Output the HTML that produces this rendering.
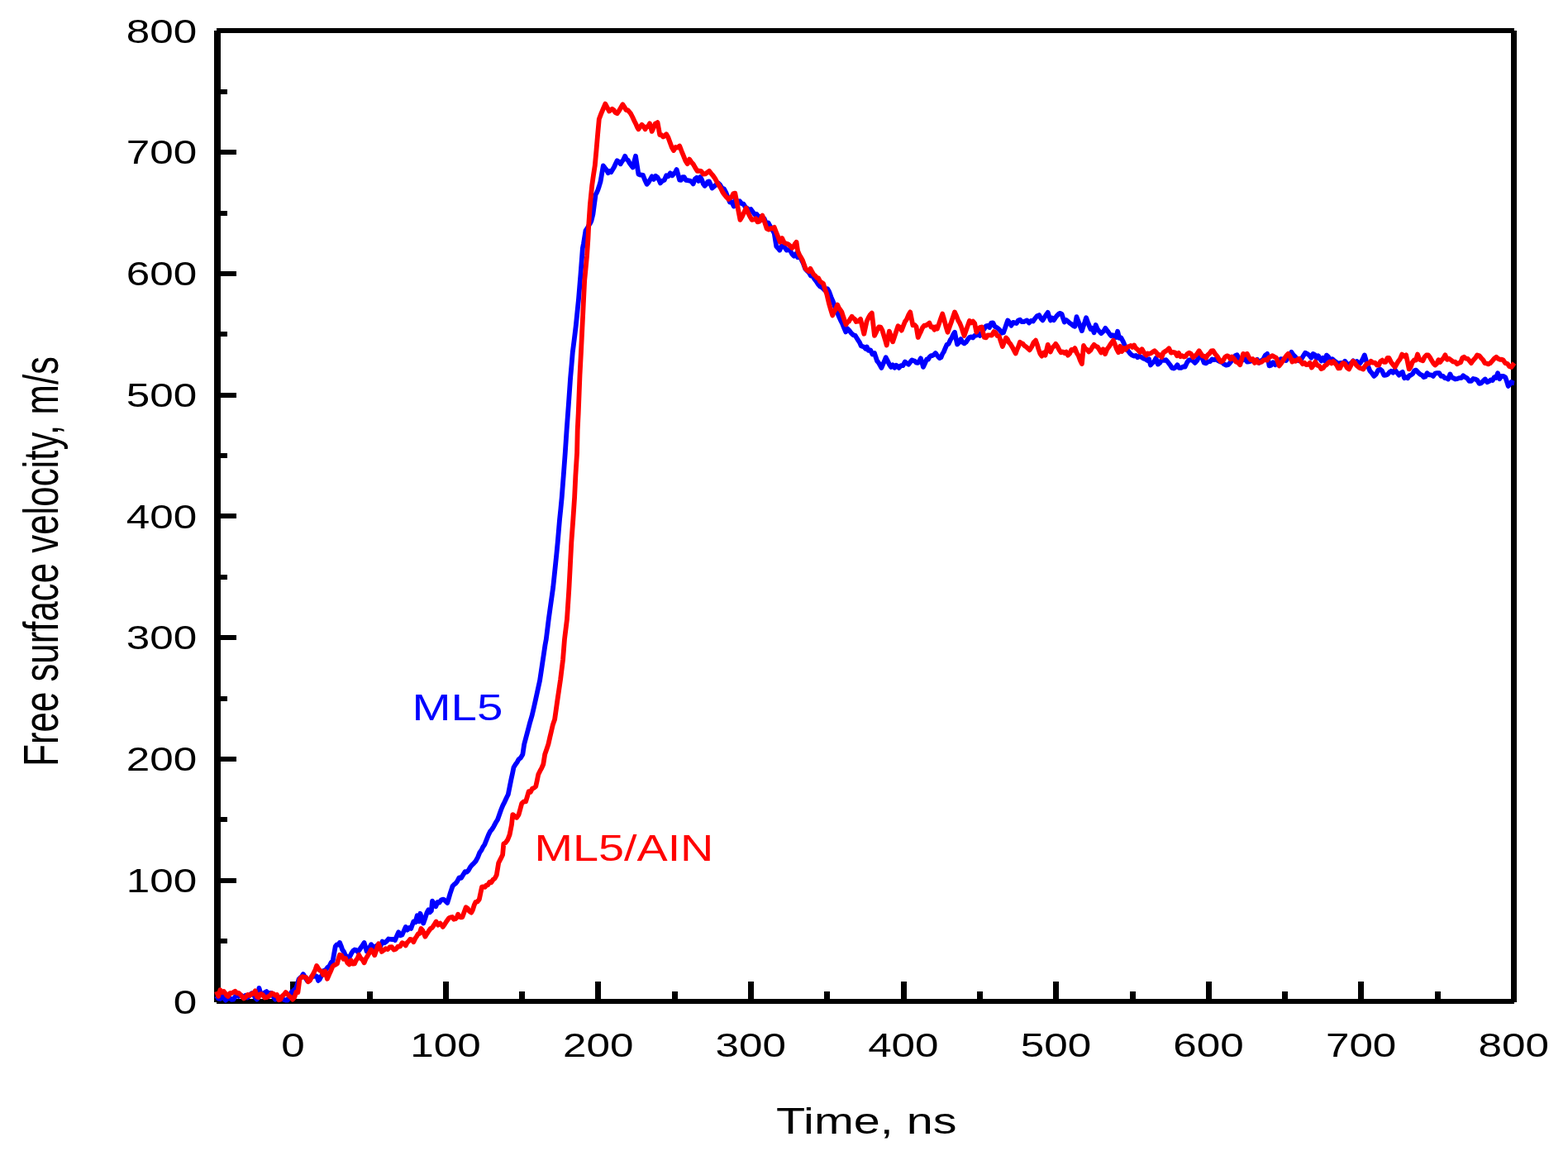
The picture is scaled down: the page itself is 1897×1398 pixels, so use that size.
<!DOCTYPE html>
<html><head><meta charset="utf-8"><title>Free surface velocity vs time</title>
<style>html,body{margin:0;padding:0;background:#fff;overflow:hidden}svg{display:block}</style></head><body>
<svg width="1897" height="1398" viewBox="0 0 1897 1398" font-family="Liberation Sans, Arial, sans-serif">
<rect x="0" y="0" width="1897" height="1398" fill="#fff"/>
<g fill="#000" shape-rendering="crispEdges">
<rect x="262" y="34" width="1570" height="6"/>
<rect x="262" y="1208" width="1570" height="6"/>
<rect x="259" y="37" width="8" height="1175"/>
<rect x="1828" y="37" width="7" height="1175"/>
<rect x="351" y="1187" width="7" height="21"/>
<rect x="444" y="1199" width="7" height="9"/>
<rect x="536" y="1187" width="7" height="21"/>
<rect x="628" y="1199" width="7" height="9"/>
<rect x="720" y="1187" width="7" height="21"/>
<rect x="813" y="1199" width="7" height="9"/>
<rect x="905" y="1187" width="7" height="21"/>
<rect x="997" y="1199" width="7" height="9"/>
<rect x="1090" y="1187" width="7" height="21"/>
<rect x="1182" y="1199" width="7" height="9"/>
<rect x="1274" y="1187" width="7" height="21"/>
<rect x="1367" y="1199" width="7" height="9"/>
<rect x="1459" y="1187" width="7" height="21"/>
<rect x="1551" y="1199" width="7" height="9"/>
<rect x="1643" y="1187" width="7" height="21"/>
<rect x="1736" y="1199" width="7" height="9"/>
<rect x="1828" y="1187" width="7" height="21"/>
<rect x="267" y="1135" width="8" height="6"/>
<rect x="267" y="1062" width="19" height="6"/>
<rect x="267" y="988" width="8" height="6"/>
<rect x="267" y="915" width="19" height="6"/>
<rect x="267" y="842" width="8" height="6"/>
<rect x="267" y="768" width="19" height="6"/>
<rect x="267" y="695" width="8" height="6"/>
<rect x="267" y="621" width="19" height="6"/>
<rect x="267" y="548" width="8" height="6"/>
<rect x="267" y="475" width="19" height="6"/>
<rect x="267" y="401" width="8" height="6"/>
<rect x="267" y="328" width="19" height="6"/>
<rect x="267" y="255" width="8" height="6"/>
<rect x="267" y="181" width="19" height="6"/>
<rect x="267" y="108" width="8" height="6"/>
</g>
<g fill="#000">
<text transform="translate(238.20,1225.60) scale(1.2805,1)" font-size="40.0" text-anchor="end">0</text>
<text transform="translate(238.20,1078.85) scale(1.2805,1)" font-size="40.0" text-anchor="end">100</text>
<text transform="translate(238.20,932.10) scale(1.2805,1)" font-size="40.0" text-anchor="end">200</text>
<text transform="translate(238.20,785.35) scale(1.2805,1)" font-size="40.0" text-anchor="end">300</text>
<text transform="translate(238.20,638.60) scale(1.2805,1)" font-size="40.0" text-anchor="end">400</text>
<text transform="translate(238.20,491.85) scale(1.2805,1)" font-size="40.0" text-anchor="end">500</text>
<text transform="translate(238.20,345.10) scale(1.2805,1)" font-size="40.0" text-anchor="end">600</text>
<text transform="translate(238.20,198.35) scale(1.2805,1)" font-size="40.0" text-anchor="end">700</text>
<text transform="translate(238.20,51.60) scale(1.2805,1)" font-size="40.0" text-anchor="end">800</text>
<text transform="translate(354.50,1277.60) scale(1.2805,1)" font-size="40.0" text-anchor="middle">0</text>
<text transform="translate(539.09,1277.60) scale(1.2805,1)" font-size="40.0" text-anchor="middle">100</text>
<text transform="translate(723.68,1277.60) scale(1.2805,1)" font-size="40.0" text-anchor="middle">200</text>
<text transform="translate(908.27,1277.60) scale(1.2805,1)" font-size="40.0" text-anchor="middle">300</text>
<text transform="translate(1092.86,1277.60) scale(1.2805,1)" font-size="40.0" text-anchor="middle">400</text>
<text transform="translate(1277.45,1277.60) scale(1.2805,1)" font-size="40.0" text-anchor="middle">500</text>
<text transform="translate(1462.04,1277.60) scale(1.2805,1)" font-size="40.0" text-anchor="middle">600</text>
<text transform="translate(1646.63,1277.60) scale(1.2805,1)" font-size="40.0" text-anchor="middle">700</text>
<text transform="translate(1831.22,1277.60) scale(1.2805,1)" font-size="40.0" text-anchor="middle">800</text>
<text transform="translate(939.10,1371.00) scale(1.32,1)" font-size="43.6">Time, ns</text>
<text transform="translate(70.00,926.80) rotate(-90) scale(1,1.337)" font-size="43.82">Free surface velocity, m/s</text>
</g>
<text fill="#0000ff" transform="translate(498.50,871.00) scale(1.272,1)" font-size="44.4">ML5</text>
<text fill="#ff0000" transform="translate(646.50,1041.00) scale(1.256,1)" font-size="44.4">ML5/AIN</text>
<polyline fill="none" stroke="#0000ff" stroke-width="5.8" stroke-linejoin="round" stroke-linecap="butt" points="262.0,1204.4 264.2,1207.6 266.5,1208.0 268.7,1204.4 270.9,1207.1 273.0,1209.6 275.4,1207.5 277.7,1206.4 280.0,1208.9 282.4,1208.6 284.5,1205.4 286.6,1203.4 288.7,1205.0 290.8,1203.3 292.9,1204.4 295.1,1206.1 297.2,1203.7 299.3,1206.5 301.1,1204.7 302.8,1202.9 304.6,1201.2 306.7,1202.1 308.8,1206.7 310.9,1208.6 312.2,1201.8 313.5,1194.9 314.8,1199.6 316.1,1203.3 318.2,1202.3 320.4,1200.2 322.5,1199.1 324.6,1202.6 326.7,1200.9 328.8,1201.2 330.9,1205.5 333.0,1208.6 335.5,1206.8 337.9,1206.9 340.4,1205.4 342.9,1208.7 345.3,1209.5 347.8,1209.6 349.5,1206.2 351.3,1202.1 353.0,1199.1 354.8,1198.4 356.5,1196.4 358.3,1194.9 359.9,1189.8 361.5,1184.3 363.3,1182.4 365.0,1181.2 366.8,1178.0 368.5,1180.8 370.3,1183.8 372.0,1186.5 374.4,1186.0 376.8,1181.4 379.1,1181.0 381.5,1180.1 383.3,1180.7 385.0,1185.9 386.8,1184.3 388.5,1180.8 390.3,1177.6 392.0,1173.8 394.1,1173.0 396.3,1169.9 398.4,1168.5 400.5,1164.2 402.6,1162.2 404.2,1153.3 405.8,1144.3 407.5,1142.3 409.3,1142.5 411.0,1140.0 412.6,1143.8 414.2,1148.5 416.0,1151.0 417.7,1155.0 419.5,1157.0 421.6,1159.8 423.7,1155.9 425.5,1152.3 427.2,1149.8 429.0,1148.5 430.7,1148.8 432.5,1151.0 434.2,1149.6 436.3,1146.5 438.5,1143.4 440.6,1140.0 442.1,1145.1 443.7,1150.6 445.5,1148.2 447.2,1145.8 449.0,1142.2 451.1,1144.5 453.2,1147.7 455.6,1143.6 457.9,1143.3 460.3,1144.6 462.6,1138.6 465.0,1140.2 467.5,1138.6 470.0,1135.5 472.5,1135.9 474.3,1136.0 476.1,1136.0 477.9,1137.0 480.0,1132.2 482.2,1127.3 484.4,1131.3 486.5,1130.5 488.6,1125.9 490.8,1120.9 492.9,1124.6 495.1,1122.0 497.2,1123.0 498.8,1118.6 500.4,1114.4 502.6,1115.3 504.7,1107.3 506.9,1114.4 508.5,1104.8 510.4,1110.7 512.2,1116.6 514.4,1110.2 516.5,1103.7 518.3,1100.3 520.1,1103.2 521.9,1101.5 523.0,1089.7 525.1,1092.5 527.3,1096.2 529.4,1091.0 531.5,1091.6 533.7,1088.5 535.8,1087.6 537.6,1088.2 539.4,1090.2 541.2,1091.9 542.8,1086.8 544.4,1081.2 546.0,1076.4 547.6,1071.5 549.4,1069.7 551.2,1068.4 553.0,1066.1 555.5,1061.3 558.0,1061.8 560.5,1057.6 562.7,1054.2 564.8,1054.6 567.0,1052.2 569.1,1048.4 571.2,1045.9 573.4,1043.8 575.5,1041.5 578.0,1036.9 580.5,1030.7 582.4,1028.2 584.3,1024.2 586.2,1021.6 588.7,1015.4 591.1,1009.4 593.1,1005.4 595.2,1002.9 597.2,999.7 599.6,995.1 602.0,991.2 604.1,985.3 606.3,979.0 608.4,973.8 610.5,969.8 612.7,965.0 614.8,960.8 616.6,951.6 618.4,942.6 620.0,935.4 621.5,928.0 623.5,924.8 625.6,921.9 627.6,918.2 630.0,916.4 632.4,912.2 634.2,900.0 636.6,891.1 639.0,881.9 641.2,873.6 643.5,865.8 646.0,855.2 648.4,844.4 650.8,833.4 653.1,822.9 654.7,812.2 656.3,801.5 657.9,790.9 659.5,780.0 660.8,773.0 662.3,760.8 663.8,748.6 665.5,736.4 667.2,724.3 669.2,710.0 670.6,696.6 672.0,683.1 673.4,669.5 674.7,655.9 677.0,628.8 678.4,615.2 679.7,601.6 681.8,574.4 683.8,547.2 685.6,520.0 687.9,488.6 690.1,457.2 691.5,441.5 692.8,425.8 694.8,410.1 696.7,394.3 698.3,378.6 699.9,362.9 701.2,347.2 702.5,331.4 704.9,300.0 706.0,294.5 708.5,279.0 710.4,276.2 712.3,272.5 713.9,270.3 715.5,266.9 717.4,259.1 719.0,247.2 720.6,235.4 722.0,232.8 723.3,229.9 724.9,225.0 726.5,219.7 728.5,207.9 729.8,200.4 731.8,203.1 733.7,205.4 735.7,209.2 737.5,207.0 739.4,208.1 741.2,205.1 743.0,202.0 744.8,198.0 746.6,194.3 748.7,195.6 750.7,198.3 752.5,195.3 754.3,193.0 756.1,188.8 757.9,192.6 759.7,193.7 761.5,197.0 763.5,199.7 765.6,202.4 767.3,195.4 769.0,188.8 770.7,199.6 772.4,210.6 774.2,211.5 776.1,211.5 777.9,211.9 780.2,217.7 782.6,222.8 784.6,220.6 786.7,217.1 788.7,213.3 791.0,216.9 793.2,212.8 795.5,214.6 797.2,217.4 798.9,221.4 801.3,218.8 803.7,217.9 806.1,212.3 808.5,213.2 810.9,209.4 813.3,212.3 815.1,210.1 816.8,208.8 818.6,205.1 820.4,211.2 822.2,217.6 824.0,217.8 825.8,214.2 827.6,214.1 829.8,217.8 832.0,218.2 834.3,218.6 836.5,219.4 838.6,222.4 840.8,216.5 842.9,214.8 845.1,218.9 847.2,214.1 849.0,217.2 850.8,222.3 852.6,224.8 854.4,222.9 856.2,219.9 858.0,219.4 859.8,223.4 861.5,227.5 863.9,225.6 866.3,223.6 868.7,221.2 871.1,223.4 873.5,227.4 875.9,228.4 878.3,232.8 880.6,238.9 883.0,244.5 885.4,244.2 887.8,249.6 890.1,240.5 892.5,244.9 894.9,243.2 897.3,246.3 899.5,246.7 901.8,250.5 904.0,251.7 906.2,255.0 908.5,253.1 910.7,256.1 913.0,259.2 915.2,258.8 917.6,262.0 920.0,261.8 922.4,266.0 924.7,264.5 927.1,270.6 929.5,269.5 931.9,273.8 934.3,277.8 936.7,282.0 938.0,290.1 939.3,298.1 941.3,300.2 943.3,302.5 945.4,297.7 947.4,298.1 949.5,299.4 951.7,302.6 953.8,302.2 956.0,302.8 958.1,307.1 960.4,309.6 962.6,307.1 964.9,311.2 967.1,308.9 969.5,313.8 971.8,318.5 974.2,325.0 976.5,327.6 978.7,329.6 981.0,333.7 983.2,333.9 985.4,337.5 987.7,340.4 989.9,343.8 992.1,346.4 994.5,347.6 996.9,350.1 999.3,351.8 1001.2,349.3 1003.2,353.0 1005.6,359.6 1008.1,365.5 1010.5,372.2 1012.6,376.9 1014.7,382.2 1016.9,387.1 1019.0,391.2 1021.1,396.4 1023.2,401.4 1025.3,397.4 1027.4,399.6 1029.9,402.9 1032.3,405.2 1034.8,405.9 1036.6,408.9 1038.3,411.6 1040.1,414.3 1041.8,418.3 1043.6,418.9 1045.3,419.6 1047.1,421.7 1048.8,419.6 1050.6,423.8 1053.1,423.3 1055.5,428.4 1058.0,427.0 1059.5,431.8 1061.1,436.5 1062.9,438.6 1064.6,441.6 1066.4,444.9 1068.2,440.6 1069.9,436.8 1071.7,432.3 1073.8,436.4 1075.9,440.6 1078.0,443.9 1080.1,441.4 1082.2,444.7 1084.3,441.8 1085.9,442.7 1087.5,444.9 1090.0,442.1 1092.4,442.1 1094.9,437.5 1097.0,439.2 1099.1,440.7 1101.2,437.9 1103.3,435.4 1105.1,436.1 1106.8,436.8 1108.6,438.6 1110.4,438.8 1112.1,436.8 1113.9,433.3 1115.5,438.7 1117.0,443.9 1119.1,439.2 1121.2,434.4 1123.0,434.6 1124.7,431.5 1126.5,430.2 1128.3,430.0 1130.0,428.8 1131.8,427.0 1133.4,429.2 1135.0,431.2 1136.7,433.1 1138.5,432.2 1140.2,428.0 1141.8,425.5 1143.4,421.7 1145.5,416.9 1147.6,415.9 1149.7,411.2 1151.5,408.5 1153.2,404.6 1155.0,401.7 1156.5,409.1 1158.1,416.5 1160.2,414.2 1162.4,410.1 1164.5,413.9 1166.6,415.4 1168.7,413.8 1170.8,410.6 1172.9,408.0 1175.0,407.4 1177.1,408.5 1179.2,405.9 1181.3,405.7 1183.5,403.7 1185.6,405.9 1188.0,401.6 1190.5,398.1 1192.9,394.3 1195.0,393.7 1197.1,396.0 1199.2,390.6 1201.3,390.3 1203.4,394.8 1205.5,395.8 1207.6,397.3 1209.8,399.5 1211.9,402.8 1214.0,402.2 1215.7,397.6 1217.5,392.3 1219.2,387.4 1221.3,390.1 1223.5,393.7 1225.6,389.9 1227.7,390.4 1229.8,391.0 1231.9,387.4 1234.0,386.7 1236.1,389.2 1238.2,389.2 1240.3,388.4 1242.4,387.4 1244.9,390.4 1247.3,387.9 1249.8,388.5 1252.3,385.0 1254.7,382.1 1257.2,381.1 1259.3,385.0 1261.4,387.4 1263.5,384.0 1265.6,380.8 1267.7,377.9 1269.3,382.9 1270.9,387.4 1273.0,384.6 1275.1,387.1 1277.2,383.7 1279.3,381.1 1281.1,379.5 1282.8,378.8 1284.6,380.0 1286.2,385.0 1287.8,389.5 1289.9,387.0 1292.0,388.7 1294.1,390.6 1296.2,392.0 1298.3,393.8 1300.4,394.8 1302.5,383.2 1304.6,388.8 1306.8,394.6 1308.9,400.1 1310.6,394.7 1312.4,389.5 1314.1,384.2 1315.9,389.2 1317.6,393.6 1319.4,398.0 1321.5,396.9 1323.6,402.3 1325.7,393.0 1327.8,398.0 1329.9,400.7 1332.1,403.2 1333.8,401.8 1335.6,400.0 1337.3,396.9 1339.1,399.5 1340.8,401.5 1342.6,404.3 1344.4,406.3 1346.1,405.3 1347.9,406.4 1350.0,408.0 1352.1,400.7 1354.2,408.9 1356.3,408.5 1358.4,412.3 1360.5,416.9 1362.6,421.2 1364.7,424.3 1367.2,427.5 1369.6,429.6 1372.1,430.6 1374.2,429.9 1376.3,432.2 1378.5,430.6 1380.6,431.7 1383.1,433.5 1385.5,434.2 1388.0,435.9 1390.0,434.2 1392.0,441.5 1394.1,438.9 1396.1,437.6 1398.5,433.0 1400.9,440.6 1403.3,438.8 1405.7,434.8 1408.2,435.9 1410.6,435.2 1413.0,437.9 1415.5,441.2 1417.9,444.9 1420.1,445.5 1422.3,444.1 1424.4,441.3 1426.6,444.9 1428.8,444.9 1431.2,443.5 1433.6,443.7 1436.1,438.4 1438.5,435.3 1440.9,435.2 1443.3,436.4 1445.8,438.8 1448.2,436.1 1450.6,431.5 1453.0,429.1 1454.8,433.7 1456.7,438.8 1459.1,439.4 1461.5,437.3 1464.0,437.1 1466.4,434.5 1468.8,435.2 1471.2,434.2 1473.7,436.2 1476.1,437.4 1478.5,437.9 1480.9,440.4 1483.4,441.6 1485.8,441.2 1487.9,439.0 1490.0,436.2 1492.2,432.2 1494.3,430.3 1496.7,429.3 1499.1,434.3 1501.5,434.0 1504.0,435.4 1506.4,434.1 1508.8,437.6 1511.2,437.3 1513.7,436.4 1516.1,436.1 1518.5,436.8 1521.0,434.9 1523.4,438.8 1525.8,436.2 1528.2,434.6 1530.7,429.8 1533.1,427.9 1535.5,442.4 1537.9,441.7 1540.3,438.2 1542.8,441.2 1545.2,438.8 1547.3,441.1 1549.5,434.1 1551.6,434.8 1553.7,434.0 1555.9,436.0 1558.1,432.8 1560.2,431.3 1562.4,425.8 1564.6,429.1 1567.0,431.3 1569.5,435.1 1571.9,436.4 1574.3,434.4 1576.7,430.5 1579.1,426.7 1581.5,427.8 1584.0,429.7 1586.4,432.7 1588.5,427.9 1590.7,429.0 1592.8,433.5 1594.9,430.3 1596.7,433.3 1598.5,436.4 1600.6,432.7 1602.8,436.4 1604.9,429.6 1607.0,431.5 1609.4,435.3 1611.9,434.2 1614.3,436.4 1616.6,438.0 1618.8,439.7 1621.1,439.1 1623.1,438.9 1625.1,440.2 1627.1,436.7 1628.9,439.1 1630.8,441.5 1632.9,440.1 1635.0,438.8 1637.1,436.4 1639.2,439.1 1641.6,437.0 1644.1,440.7 1646.5,437.9 1648.7,434.1 1650.8,429.4 1652.9,436.4 1655.0,442.7 1657.4,448.6 1659.9,451.3 1662.3,454.9 1664.7,452.6 1667.2,447.8 1669.6,446.4 1672.0,448.5 1674.4,453.9 1676.8,453.6 1678.8,452.8 1680.9,450.2 1682.9,448.8 1685.3,450.6 1687.8,447.4 1690.2,450.7 1692.6,453.6 1694.7,451.2 1696.8,449.9 1699.0,457.2 1701.1,456.1 1703.1,457.3 1705.1,454.1 1707.1,453.6 1709.1,452.0 1711.2,448.3 1713.2,447.6 1715.6,450.3 1718.1,452.7 1720.5,453.6 1722.5,456.1 1724.5,455.4 1726.5,451.2 1728.9,453.4 1731.4,453.4 1733.8,454.9 1736.2,451.7 1738.7,451.2 1741.1,451.2 1743.5,454.9 1745.9,454.9 1747.9,457.1 1750.0,457.3 1752.0,458.5 1754.4,452.4 1756.4,456.5 1758.5,457.3 1760.5,458.5 1762.9,458.1 1765.3,457.1 1767.8,457.2 1770.2,454.3 1772.6,456.1 1775.0,457.3 1777.5,460.9 1779.9,460.9 1782.3,458.0 1784.7,458.5 1787.1,459.6 1789.6,463.8 1792.0,463.3 1794.4,460.7 1796.8,458.5 1799.2,462.3 1801.7,460.9 1803.7,459.3 1805.8,460.0 1807.8,456.1 1809.9,456.9 1812.0,451.2 1814.2,458.2 1816.3,454.9 1818.7,455.0 1821.1,456.1 1822.9,461.1 1824.7,467.0 1826.6,464.7 1828.4,462.1 1830.2,463.0 1832.0,463.3"/>
<polyline fill="none" stroke="#ff0000" stroke-width="5.8" stroke-linejoin="round" stroke-linecap="butt" points="262.0,1199.0 264.2,1204.8 266.4,1197.3 268.6,1200.0 270.8,1199.0 272.5,1201.2 274.3,1203.9 276.0,1205.0 278.1,1201.2 280.3,1201.0 282.4,1200.0 284.5,1198.7 286.6,1201.0 288.7,1200.9 290.8,1202.9 292.9,1205.1 295.0,1207.5 297.4,1205.5 299.8,1202.9 302.2,1203.9 304.6,1201.7 306.7,1201.9 308.8,1198.2 310.9,1205.4 312.6,1206.3 314.3,1202.5 316.0,1202.0 318.2,1203.3 320.4,1206.5 322.5,1206.2 324.6,1205.2 326.7,1203.9 328.8,1201.1 330.9,1202.0 333.0,1203.9 335.1,1202.9 337.2,1209.2 339.3,1208.6 341.4,1204.6 343.6,1202.7 345.7,1200.0 347.8,1202.2 349.9,1204.6 352.0,1206.1 354.1,1208.6 356.2,1206.2 358.3,1199.7 360.4,1200.0 362.5,1184.3 364.1,1182.4 365.7,1181.2 368.1,1181.6 370.4,1182.1 372.8,1187.3 375.2,1185.4 377.3,1180.6 379.4,1176.8 381.5,1172.7 383.1,1167.9 384.7,1170.6 386.8,1173.5 388.9,1174.6 391.0,1179.0 393.5,1174.5 395.9,1183.8 398.4,1178.0 400.5,1173.5 402.6,1168.5 404.4,1167.2 406.1,1166.5 407.9,1165.4 409.4,1159.8 411.0,1154.8 413.3,1155.6 415.6,1159.8 418.0,1158.9 420.3,1164.3 422.6,1166.4 424.7,1161.5 426.9,1165.7 429.0,1165.4 430.7,1161.3 432.5,1159.1 434.2,1154.8 436.3,1158.7 438.5,1160.6 440.6,1164.3 442.7,1159.2 444.8,1155.9 446.9,1152.3 449.0,1148.5 451.1,1151.0 453.2,1155.2 455.6,1148.2 458.0,1141.2 459.9,1146.3 461.8,1150.9 464.2,1149.2 466.6,1147.1 469.1,1148.1 471.5,1145.5 474.0,1145.2 476.5,1148.6 479.0,1147.7 481.5,1144.6 484.0,1144.6 486.5,1140.2 488.6,1141.1 490.8,1143.4 492.6,1139.9 494.3,1138.4 496.1,1135.9 498.2,1136.3 500.4,1139.1 502.2,1135.2 504.0,1132.5 505.8,1129.4 507.6,1129.0 509.4,1123.0 511.2,1125.2 512.8,1128.9 514.4,1132.7 516.5,1129.3 518.7,1126.0 520.8,1123.0 523.0,1121.7 525.1,1118.7 527.6,1114.6 530.1,1118.6 532.6,1116.6 534.2,1118.4 535.8,1120.9 538.3,1117.3 540.8,1113.4 543.3,1110.1 545.2,1109.3 547.1,1109.0 549.0,1111.7 550.9,1111.2 552.5,1109.8 554.1,1105.8 555.9,1108.6 557.6,1109.4 559.4,1109.1 561.5,1103.3 563.7,1097.3 565.9,1098.7 568.0,1102.2 570.2,1103.7 572.0,1100.1 573.7,1094.6 575.5,1090.8 577.6,1090.4 579.8,1087.6 581.4,1080.2 583.0,1072.6 584.8,1072.3 586.6,1072.8 588.4,1070.6 590.3,1070.2 592.3,1066.6 594.4,1067.2 596.5,1063.9 598.7,1062.2 600.8,1058.1 603.2,1043.5 605.7,1038.7 608.1,1033.7 609.3,1020.4 611.8,1018.9 614.2,1015.5 616.6,1009.4 619.0,997.3 620.3,985.1 622.7,987.1 625.1,988.8 627.6,985.1 629.4,978.4 631.2,971.7 633.7,969.4 636.1,969.3 637.9,963.3 639.7,957.1 641.8,957.9 644.0,953.7 646.1,952.9 648.2,951.1 649.8,943.9 651.3,936.5 653.3,932.4 655.3,928.8 657.3,924.3 659.2,912.2 661.3,906.2 663.4,900.0 665.2,892.0 667.0,884.3 668.8,876.6 671.1,870.0 672.8,858.0 674.5,846.0 676.3,833.8 678.1,821.6 679.6,809.5 681.1,797.3 683.0,773.0 684.5,760.8 686.0,748.6 687.6,724.3 688.5,710.0 689.9,683.1 691.3,655.9 693.3,628.8 695.1,601.6 696.4,574.4 698.1,547.2 698.7,520.0 699.7,500.0 701.5,453.6 703.0,425.0 704.4,396.4 705.8,367.7 707.2,339.1 708.6,324.6 710.0,310.0 711.5,288.0 712.3,270.9 713.9,247.2 716.3,223.6 718.0,211.7 719.8,200.0 721.5,181.6 723.1,162.8 724.8,144.0 727.3,137.4 729.8,131.5 732.3,125.6 734.7,130.1 737.1,134.5 738.9,132.9 740.7,131.8 742.5,133.1 744.5,136.2 746.6,137.2 748.9,134.0 751.1,130.2 753.4,126.3 755.5,129.5 757.5,133.1 759.3,133.1 761.1,135.0 762.9,137.2 765.2,141.5 767.4,146.2 769.7,150.8 771.0,153.9 772.4,156.2 774.5,153.3 776.5,150.8 778.5,152.8 780.6,156.2 782.4,153.3 784.2,152.9 786.0,149.4 787.4,154.2 788.7,158.9 790.8,154.2 792.8,149.4 794.1,149.3 795.5,148.1 796.9,155.6 798.2,163.0 800.2,163.1 802.2,165.5 804.1,164.4 806.1,162.2 808.3,165.9 810.5,172.0 812.8,178.2 815.0,181.9 817.4,178.0 819.8,178.5 822.2,176.5 824.6,182.8 826.9,188.4 829.3,194.4 831.7,198.1 834.1,192.6 836.5,196.2 838.9,198.8 841.3,203.2 843.7,206.9 846.1,206.6 848.4,207.1 850.8,210.5 853.2,210.4 855.6,208.6 858.0,206.9 860.4,209.9 862.7,212.5 865.1,215.9 867.4,220.1 869.6,223.9 871.9,227.5 874.1,232.0 876.5,235.5 878.8,238.3 881.2,240.9 883.2,239.2 885.2,238.3 887.3,234.0 889.3,233.7 891.4,244.4 893.4,255.1 895.5,265.9 897.9,261.8 900.3,256.6 902.7,251.6 905.1,257.4 907.4,261.9 909.8,265.9 912.0,265.5 914.3,264.2 916.5,268.4 918.8,267.7 920.6,264.0 922.4,260.6 924.2,265.9 925.9,271.1 927.7,276.7 930.0,277.7 932.2,276.2 934.5,276.3 936.7,274.9 939.1,281.0 941.4,286.5 943.8,292.8 946.2,288.1 948.6,293.3 951.0,294.5 953.4,295.3 955.7,297.3 958.1,299.9 959.9,298.4 961.7,295.1 963.5,292.8 965.1,303.4 967.1,308.2 969.2,311.5 971.2,315.4 972.9,320.3 974.6,324.9 976.5,326.8 978.5,328.3 980.4,324.8 982.3,328.3 984.3,331.9 986.3,333.5 988.3,336.0 990.2,336.4 992.1,340.3 994.1,341.7 996.0,342.9 998.1,349.7 1000.3,355.8 1001.6,361.4 1002.9,366.9 1005.0,374.3 1007.2,381.5 1009.2,376.5 1011.2,373.6 1013.2,368.6 1014.9,372.4 1016.6,374.8 1018.3,377.2 1020.0,382.5 1021.8,387.8 1023.5,392.6 1025.2,389.6 1026.9,388.7 1028.6,385.8 1030.6,382.7 1032.3,384.8 1034.1,385.9 1035.8,389.0 1037.6,388.7 1039.3,387.6 1041.1,385.9 1043.2,395.1 1045.3,403.8 1046.9,396.5 1048.5,389.0 1050.6,384.4 1052.7,380.7 1054.8,378.5 1056.4,392.2 1058.0,405.9 1059.8,402.3 1061.5,398.4 1063.3,395.4 1065.4,395.7 1067.5,399.6 1069.2,405.5 1071.0,411.3 1072.7,417.5 1074.3,409.0 1075.9,400.6 1078.0,407.2 1080.1,413.3 1082.2,407.0 1084.4,400.4 1086.5,394.3 1088.6,395.9 1090.7,399.6 1092.8,394.2 1094.9,389.0 1097.0,386.1 1099.1,381.0 1101.2,377.4 1102.8,385.5 1104.4,393.3 1106.5,392.8 1108.6,395.4 1110.7,408.0 1112.5,404.0 1114.2,400.6 1116.0,396.4 1118.1,393.7 1120.2,393.7 1122.3,392.2 1124.4,390.6 1126.5,395.6 1128.6,395.4 1130.4,398.6 1132.1,395.4 1133.9,397.5 1136.0,391.6 1138.1,385.5 1140.2,379.6 1142.3,386.6 1144.4,394.8 1146.5,401.7 1148.6,395.8 1150.8,389.8 1152.9,383.6 1155.0,377.4 1157.1,382.0 1159.2,387.6 1161.3,391.1 1163.1,395.5 1164.8,400.9 1166.6,405.9 1168.7,399.8 1170.8,393.9 1172.9,388.0 1175.0,390.4 1177.1,388.6 1179.2,391.1 1181.3,401.7 1183.4,397.9 1185.6,396.1 1187.7,395.4 1189.2,401.8 1190.8,408.0 1192.9,408.3 1195.0,405.3 1197.5,405.4 1199.9,405.5 1202.4,401.1 1204.5,402.1 1206.6,406.1 1208.7,406.4 1210.8,412.9 1212.9,419.0 1215.0,413.7 1217.1,408.5 1218.9,410.3 1220.6,414.2 1222.4,415.9 1224.5,419.4 1226.6,423.5 1228.7,427.5 1230.5,422.6 1232.2,418.9 1234.0,413.8 1235.8,415.1 1237.5,415.8 1239.3,418.0 1241.4,419.4 1243.5,421.2 1245.6,423.3 1248.1,419.5 1250.5,414.3 1253.0,411.7 1254.8,416.7 1256.5,422.4 1258.3,427.5 1260.4,430.6 1262.5,426.6 1264.6,429.6 1266.2,423.3 1267.7,416.9 1269.3,421.0 1270.9,425.4 1273.0,420.5 1275.1,418.8 1277.2,415.9 1279.3,418.9 1281.5,423.3 1283.6,426.2 1285.7,425.4 1287.8,427.0 1289.9,425.6 1292.0,429.6 1294.1,427.7 1296.2,422.9 1298.3,423.5 1300.4,421.1 1302.5,426.4 1304.7,430.1 1306.8,435.7 1308.9,440.1 1311.0,418.0 1313.1,421.9 1315.2,422.7 1317.3,425.4 1319.4,423.6 1321.5,419.8 1323.6,416.9 1325.7,418.7 1327.8,419.4 1330.0,422.8 1332.1,426.4 1334.5,422.2 1337.0,428.1 1339.4,422.2 1341.9,418.9 1344.3,415.1 1346.8,411.7 1348.9,416.5 1351.0,422.2 1353.1,426.2 1355.2,418.8 1357.4,425.0 1359.5,421.1 1361.6,422.8 1363.7,419.9 1365.8,419.0 1367.9,418.0 1370.0,419.9 1372.1,417.5 1374.2,421.1 1376.7,423.1 1379.1,426.0 1381.6,422.2 1383.4,425.4 1385.1,428.0 1386.9,429.6 1388.5,427.4 1390.0,427.9 1392.4,427.3 1394.8,425.5 1396.9,424.2 1399.0,426.3 1401.2,429.7 1403.3,429.1 1405.4,432.1 1407.5,426.5 1409.7,425.0 1411.8,423.6 1414.2,421.3 1416.7,426.6 1419.1,425.9 1421.6,426.3 1424.0,430.3 1426.1,426.9 1428.2,431.2 1430.3,430.2 1432.4,431.5 1434.4,430.9 1436.5,427.9 1438.5,426.7 1440.9,427.9 1443.4,432.1 1445.8,430.3 1448.2,428.0 1450.6,424.2 1452.7,427.3 1454.8,430.3 1457.0,430.8 1459.1,432.7 1461.2,429.3 1463.3,427.5 1465.5,424.4 1467.6,424.2 1470.0,427.9 1472.4,430.6 1474.9,434.7 1477.3,437.6 1479.7,436.2 1482.2,431.7 1484.6,430.3 1486.6,431.1 1488.6,434.2 1490.6,431.5 1493.0,434.0 1495.4,437.5 1497.9,438.5 1500.3,441.2 1502.2,434.4 1504.0,427.9 1506.4,429.1 1508.8,427.8 1511.2,432.7 1513.4,435.3 1515.6,434.1 1517.8,438.9 1520.0,435.2 1522.2,438.8 1524.3,438.2 1526.4,437.7 1528.5,435.7 1530.6,435.2 1532.8,435.7 1535.1,432.5 1537.3,431.3 1539.5,430.1 1541.8,431.7 1544.0,432.7 1545.8,437.3 1547.6,442.4 1549.8,439.7 1552.0,436.3 1554.1,433.1 1556.3,430.1 1558.5,427.9 1561.0,431.8 1563.4,437.6 1565.4,436.0 1567.4,436.9 1569.4,435.2 1571.6,433.8 1573.8,437.1 1575.9,440.1 1578.1,438.7 1580.3,441.2 1582.5,440.9 1584.7,438.8 1586.9,444.6 1589.1,441.5 1591.3,437.6 1593.7,441.7 1596.1,442.5 1598.5,446.1 1600.6,445.2 1602.8,442.2 1604.9,441.1 1607.0,438.8 1609.0,437.4 1611.0,439.3 1613.0,437.1 1615.0,439.1 1617.0,441.5 1619.1,445.4 1621.1,445.2 1622.9,441.3 1624.7,439.1 1627.1,439.9 1629.6,444.6 1632.0,446.4 1634.4,441.9 1636.8,436.7 1638.9,438.3 1641.0,441.7 1643.2,443.6 1645.3,445.2 1647.3,445.6 1649.4,446.5 1651.4,442.7 1653.8,439.7 1656.2,439.7 1658.6,436.7 1661.0,438.7 1663.5,438.7 1665.9,441.5 1668.0,441.7 1670.2,436.9 1672.3,435.6 1674.4,437.9 1676.4,437.9 1678.5,432.9 1680.5,433.0 1682.9,437.9 1685.3,441.1 1687.7,443.9 1689.7,440.3 1691.8,436.8 1693.8,434.2 1696.2,428.6 1698.7,430.9 1701.1,429.4 1702.9,437.7 1704.7,446.4 1706.7,443.7 1708.8,438.1 1710.8,435.5 1712.9,435.7 1715.0,428.5 1717.2,434.6 1719.3,435.5 1721.4,436.2 1723.5,431.7 1725.7,429.5 1727.8,429.4 1729.9,432.0 1732.0,435.8 1734.1,439.2 1736.2,441.5 1738.2,439.8 1740.3,435.2 1742.3,437.9 1744.3,435.3 1746.4,433.1 1748.4,429.4 1750.8,434.8 1753.2,433.7 1755.6,435.5 1758.0,437.4 1760.5,437.7 1762.9,440.3 1765.0,439.1 1767.2,438.3 1769.3,432.6 1771.4,431.8 1773.5,433.7 1775.7,433.9 1777.8,436.3 1779.9,439.1 1782.3,435.7 1784.8,433.1 1787.2,429.4 1789.6,430.2 1792.0,433.0 1794.4,435.5 1796.4,439.2 1798.5,439.5 1800.5,440.3 1802.9,439.2 1805.3,436.6 1807.8,433.6 1810.2,431.8 1812.3,433.6 1814.5,434.8 1816.6,434.6 1818.7,435.5 1821.1,439.1 1823.6,439.7 1826.0,443.1 1828.4,443.9 1830.2,441.5 1832.0,439.1"/>
</svg></body></html>
